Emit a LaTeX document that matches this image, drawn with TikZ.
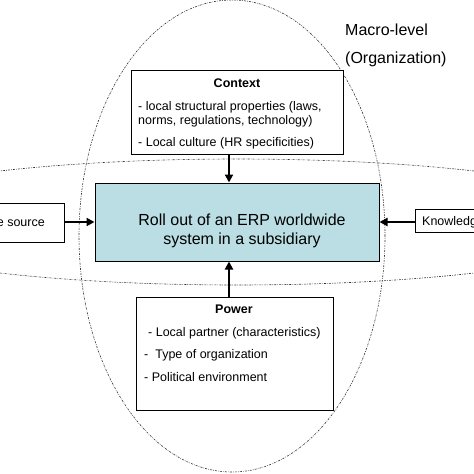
\documentclass[tikz,border=0pt]{standalone}
\usepackage{fontspec}
\setmainfont{Liberation Sans}
\usetikzlibrary{arrows.meta}
\definecolor{boxblue}{RGB}{186,222,228}
\tikzset{
  region/.style={draw=black!80, line width=0.6pt, dash pattern=on 2pt off 1.2pt on 0.6pt off 1.2pt},
  plainbox/.style={draw=black, line width=1pt, rectangle, inner sep=0pt},
  arr/.style={line width=2pt, -{Triangle[length=8pt,width=8pt]}},
  txt/.style={anchor=base west, inner sep=0pt, font=\fontsize{12.5}{14}\selectfont},
  ttl/.style={anchor=base, inner sep=0pt, font=\fontsize{12.5}{14}\selectfont\bfseries},
}
\begin{document}
\begin{tikzpicture}[x=1pt,y=-1pt]
\useasboundingbox (0,0) rectangle (474,474);
\fill[white] (0,0) rectangle (474,474);
% regions
\draw[region] (232,236) ellipse [x radius=153pt, y radius=236pt];
\draw[region] (237,222) ellipse [x radius=404pt, y radius=63pt];
% boxes
\node[plainbox, fill=white, minimum width=212pt, minimum height=84pt] (ctx) at (237,112) {};
\node[plainbox, fill=boxblue, minimum width=284pt, minimum height=78pt] (main) at (237,222) {};
\node[plainbox, fill=white, minimum width=197pt, minimum height=113pt] (pow) at (234.5,353.5) {};
\node[plainbox, fill=white, minimum width=134pt, minimum height=39pt] (ksrc) at (-3,222.5) {};
\node[plainbox, fill=white, minimum width=114pt, minimum height=23pt] (kdst) at (472,220.5) {};
% texts
\node[ttl] (ctxt) at (237,87) {Context};
\node[txt] (c1) at (138,110) {- local structural properties (laws,};
\node[txt] (c2) at (138,124) {norms, regulations, technology)};
\node[txt] (c3) at (138,146) {- Local culture (HR specificities)};
\node[anchor=base, inner sep=0pt, font=\fontsize{16}{18}\selectfont] (m1) at (242,225) {Roll out of an ERP worldwide};
\node[anchor=base, inner sep=0pt, font=\fontsize{16}{18}\selectfont] (m2) at (242,244) {system in a subsidiary};
\node[ttl] (powt) at (234,313) {Power};
\node[txt] (p1) at (148,336) {- Local partner (characteristics)};
\node[txt] (p2) at (144,358) {-\ \ Type of organization};
\node[txt] (p3) at (144,381) {- Political environment};
\node[txt, anchor=base east] (ks) at (45,226) {Knowledge source};
\node[txt] (kd) at (422,225) {Knowledge};
\node[anchor=base west, inner sep=0pt, font=\fontsize{16}{18}\selectfont] (mac1) at (345,35) {Macro-level};
\node[anchor=base west, inner sep=0pt, font=\fontsize{16}{18}\selectfont] (mac2) at (345,63) {(Organization)};
% arrows
\draw[arr] ([xshift=-8pt]ctx.south) -- ([xshift=-8pt]main.north);
\draw[arr] ([xshift=-5.5pt]pow.north) -- ([xshift=-8pt]main.south);
\draw[arr] (ksrc.east |- main.west) -- (main.west);
\draw[arr] (kdst.west |- main.east) -- (main.east);
\end{tikzpicture}
\end{document}
